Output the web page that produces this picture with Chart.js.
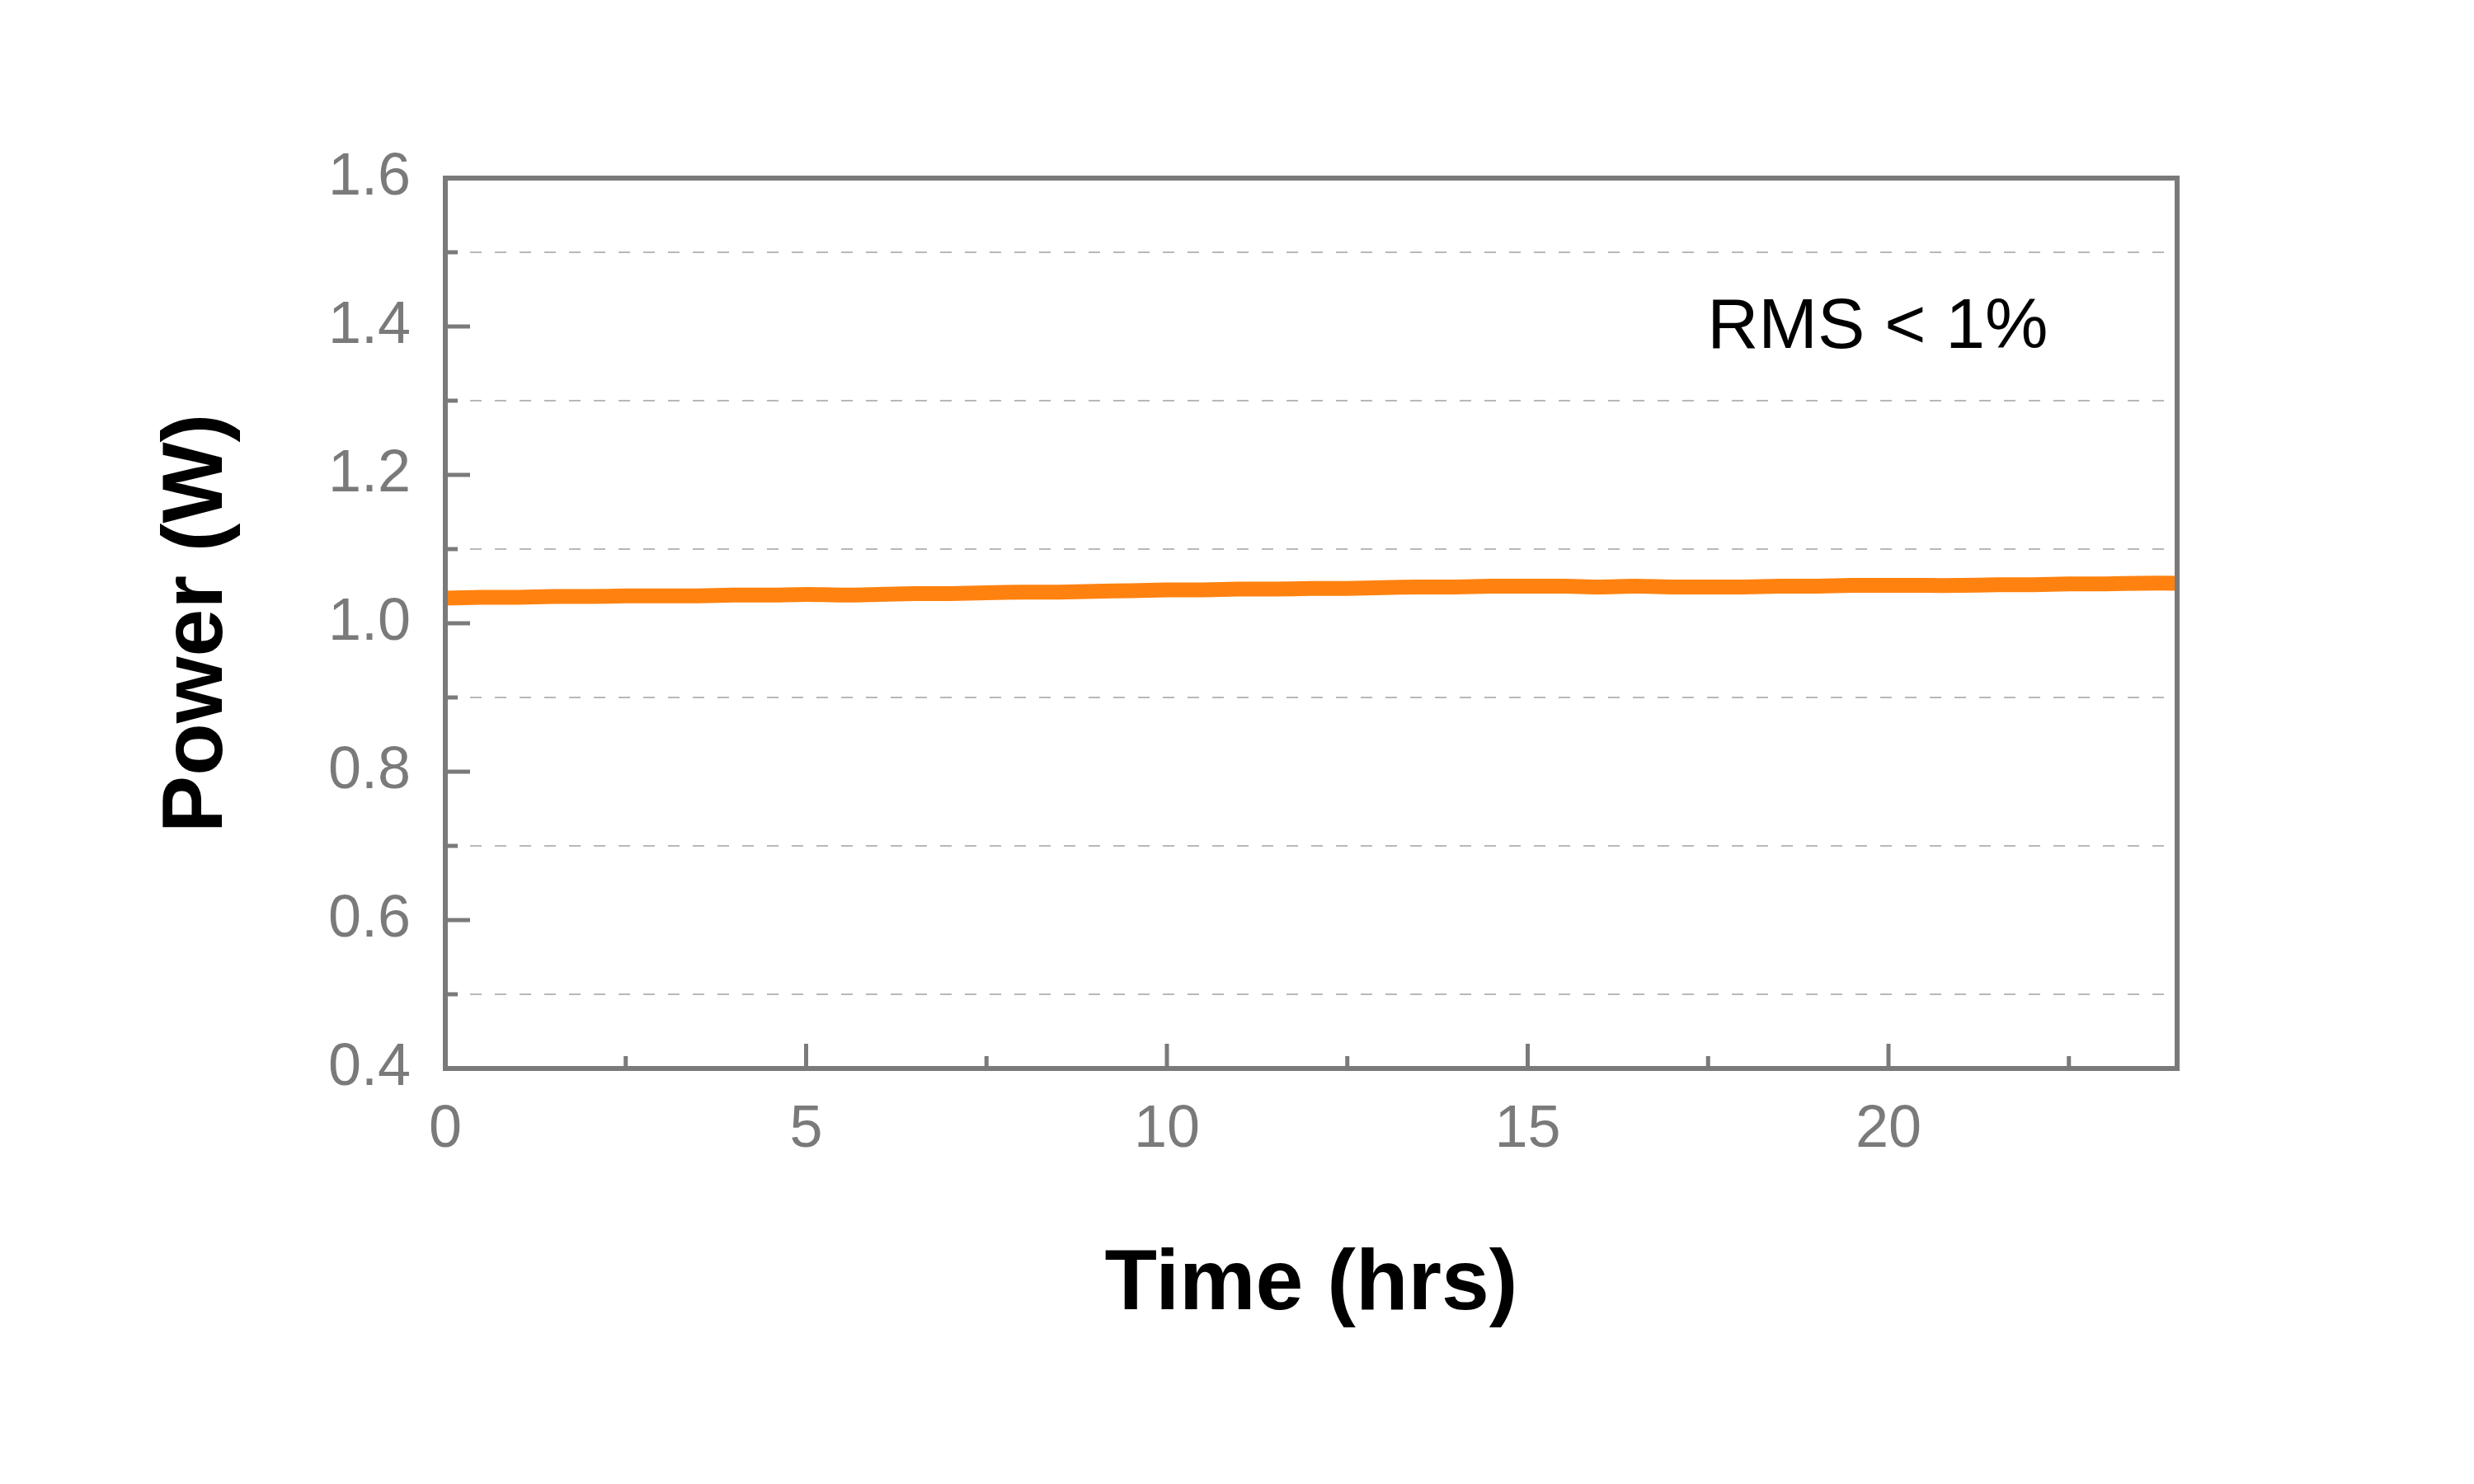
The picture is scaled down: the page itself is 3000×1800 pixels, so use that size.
<!DOCTYPE html>
<html>
<head>
<meta charset="utf-8">
<script src="https://cdn.jsdelivr.net/npm/chart.js@4.4.1/dist/chart.umd.min.js"></script>
<style>
  body { margin: 0; background: #fff; }
  #wrap { width: 3000px; height: 1800px; }
</style>
</head>
<body>
<div id="wrap"><canvas id="chart" width="3000" height="1800"></canvas></div>
<script>
// time in hours (every half hour)
const hours = [0, 0.5, 1, 1.5, 2, 2.5, 3, 3.5, 4, 4.5, 5, 5.5, 6, 6.5, 7, 7.5, 8, 8.5, 9, 9.5,
  10, 10.5, 11, 11.5, 12, 12.5, 13, 13.5, 14, 14.5, 15, 15.5, 16, 16.5, 17, 17.5, 18, 18.5, 19, 19.5,
  20, 20.5, 21, 21.5, 22, 22.5, 23, 23.5, 24];
// power (W)
const power = [1.034, 1.035, 1.035, 1.036, 1.036, 1.037, 1.037, 1.037, 1.038, 1.038,
  1.039, 1.038, 1.039, 1.040, 1.040, 1.041, 1.042, 1.042, 1.043, 1.044,
  1.045, 1.045, 1.046, 1.046, 1.047, 1.047, 1.048, 1.049, 1.049, 1.050,
  1.050, 1.050, 1.049, 1.050, 1.049, 1.049, 1.049, 1.050, 1.050, 1.051,
  1.051, 1.051, 1.051, 1.052, 1.052, 1.053, 1.053, 1.054, 1.054];

const xMajorTicks = [0, 5, 10, 15, 20];
const yMajorTicks = [0.4, 0.6, 0.8, 1.0, 1.2, 1.4, 1.6];
const note = "RMS < 1%";

const axisGray = "#7a7a7a";
const isMajorY = v => Math.round(v * 10) % 2 === 0;

// frame, inward ticks and the note
const framePlugin = {
  id: "frame",
  afterDraw(chart) {
    const { ctx, chartArea: a, scales } = chart;
    const xs = scales.x, ys = scales.y;
    ctx.save();
    ctx.strokeStyle = axisGray;
    ctx.lineWidth = 6;
    ctx.strokeRect(a.left, a.top, a.right - a.left, a.bottom - a.top);

    ctx.lineWidth = 5;
    xs.ticks.forEach(t => {
      if (t.value <= xs.min || t.value >= xs.max) return;
      const px = xs.getPixelForValue(t.value);
      const len = t.value % 5 === 0 ? 30 : 15;
      ctx.beginPath();
      ctx.moveTo(px, a.bottom);
      ctx.lineTo(px, a.bottom - len);
      ctx.stroke();
    });
    ys.ticks.forEach(t => {
      if (t.value <= ys.min + 1e-6 || t.value >= ys.max - 1e-6) return;
      const py = ys.getPixelForValue(t.value);
      const len = isMajorY(t.value) ? 30 : 15;
      ctx.beginPath();
      ctx.moveTo(a.left, py);
      ctx.lineTo(a.left + len, py);
      ctx.stroke();
    });

    ctx.fillStyle = "#000";
    ctx.font = "86px 'Liberation Sans', Arial, sans-serif";
    ctx.textAlign = "center";
    ctx.textBaseline = "middle";
    ctx.fillText(note, xs.getPixelForValue(19.85), ys.getPixelForValue(1.4) + 2);
    ctx.restore();
  }
};

new Chart(document.getElementById("chart"), {
  type: "line",
  data: {
    datasets: [{
      data: hours.map((h, i) => ({ x: h, y: power[i] })),
      borderColor: "#ff8210",
      borderWidth: 18,
      pointRadius: 0,
      tension: 0.2,
      fill: false,
    }],
  },
  options: {
    responsive: false,
    animation: false,
    devicePixelRatio: 1,
    layout: { padding: { left: 178, right: 360, top: 216, bottom: 178 } },
    plugins: { legend: { display: false }, tooltip: { enabled: false } },
    scales: {
      x: {
        type: "linear",
        min: 0,
        max: 24,
        afterFit: s => { s.height = 1800 - 178 - 1296; },
        grid: { display: false, drawTicks: false },
        border: { display: false },
        ticks: {
          stepSize: 2.5,
          autoSkip: false,
          maxRotation: 0,
          padding: 32,
          color: axisGray,
          font: { family: "'Liberation Sans', Arial, sans-serif", size: 72 },
          callback: v => (xMajorTicks.includes(v) ? String(v) : ""),
        },
        title: {
          display: true,
          text: "Time (hrs)",
          color: "#000",
          padding: 0,
          font: { family: "'Liberation Sans', Arial, sans-serif", size: 104, weight: "bold" },
        },
      },
      y: {
        min: 0.4,
        max: 1.6,
        afterFit: s => { s.width = 540 - 178; },
        grid: {
          drawTicks: false,
          lineWidth: 2,
          color: c => (isMajorY(c.tick.value) ? "rgba(0,0,0,0)" : "#b8b8b8"),
        },
        border: { display: false, dash: [14, 16] },
        ticks: {
          stepSize: 0.1,
          autoSkip: false,
          padding: 42,
          color: axisGray,
          font: { family: "'Liberation Sans', Arial, sans-serif", size: 72 },
          callback: v => {
            const r = Math.round(v * 10) / 10;
            return yMajorTicks.some(m => Math.abs(m - r) < 1e-6) ? r.toFixed(1) : "";
          },
        },
        title: {
          display: true,
          text: "Power (W)",
          color: "#000",
          padding: 0,
          font: { family: "'Liberation Sans', Arial, sans-serif", size: 104, weight: "bold" },
        },
      },
    },
  },
  plugins: [framePlugin],
});
</script>
</body>
</html>
